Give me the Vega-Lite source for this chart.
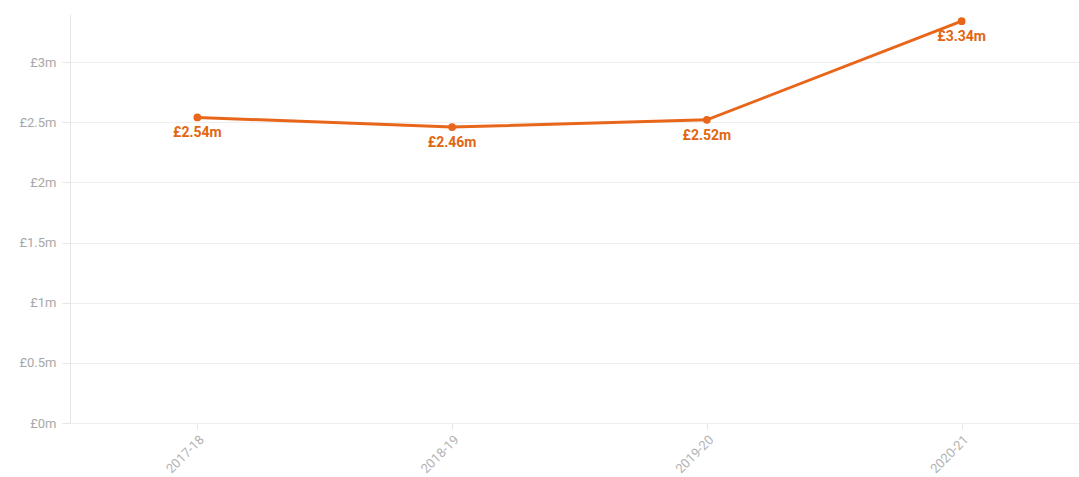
{
  "$schema": "https://vega.github.io/schema/vega-lite/v6.json",
  "autosize": {"type": "none"},
  "width": 1019,
  "height": 409,
  "padding": {"left": 70, "top": 14, "right": 0, "bottom": 54},
  "background": "white",
  "config": {"view": {"stroke": null}, "font": "Roboto"},
  "data": {"values": [
    {"year": "2017-18", "value": 2.54, "label": "£2.54m"},
    {"year": "2018-19", "value": 2.46, "label": "£2.46m"},
    {"year": "2019-20", "value": 2.52, "label": "£2.52m"},
    {"year": "2020-21", "value": 3.34, "label": "£3.34m"}
  ]},
  "encoding": {
    "x": {"field": "year", "type": "ordinal", "title": null,
      "scale": {"type": "point", "padding": 0.5},
      "axis": {"labelAngle": -45, "labelColor": "#b3b3b3", "labelFontSize": 13, "labelFont": "Roboto", "domain": false, "ticks": true, "tickColor": "#e6e6e6", "tickSize": 6, "labelPadding": 4, "grid": false}},
    "y": {"field": "value", "type": "quantitative", "title": null,
      "scale": {"domain": [0, 3.4], "nice": false, "zero": true},
      "axis": {"values": [0, 0.5, 1, 1.5, 2, 2.5, 3], "labelExpr": "'£' + datum.value + 'm'", "labelColor": "#a8a8a8", "labelFontSize": 13, "labelFont": "Roboto", "domain": true, "domainColor": "#e6e6e6", "tickColor": "#e6e6e6", "tickSize": 8, "labelPadding": 6, "gridColor": "#eeeeee"}}
  },
  "layer": [
    {"mark": {"type": "line", "color": "#e8661a", "strokeWidth": 3}},
    {"mark": {"type": "point", "filled": true, "color": "#e8661a", "size": 60, "opacity": 1}},
    {"mark": {"type": "text", "color": "#e2650f", "fontWeight": "bold", "fontSize": 14, "dy": 16, "font": "Roboto"},
      "encoding": {"text": {"field": "label", "type": "nominal"}}}
  ]
}
